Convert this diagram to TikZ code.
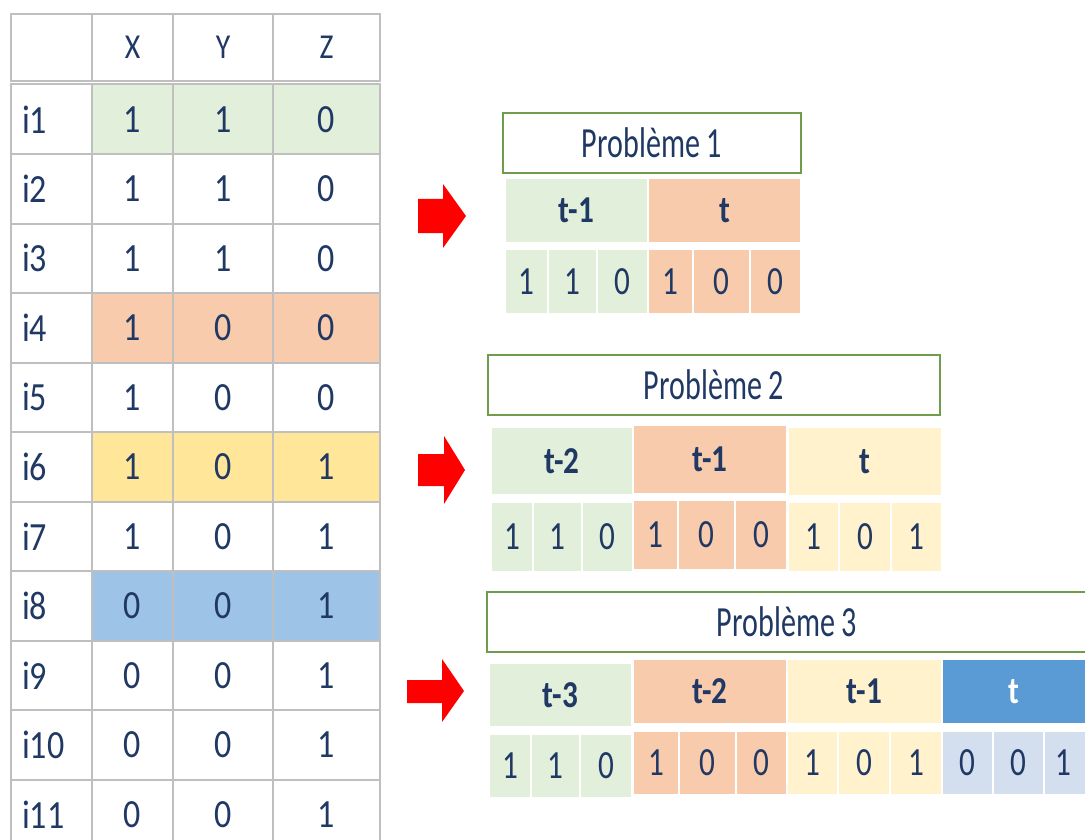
\documentclass[tikz,border=0pt]{standalone}
\usepackage{fontspec}
\setmainfont{Carlito}
\newfontfamily\probfont{Carlito}[FakeStretch=0.7]
\newfontfamily\valfont{Carlito}[FakeStretch=0.78]
\newfontfamily\tabfont{Carlito}[FakeStretch=0.85]
\newfontfamily\headfont{Carlito}[FakeStretch=0.82]
\definecolor{txt}{HTML}{203864}
\definecolor{grn}{HTML}{E2EFDA}
\definecolor{org}{HTML}{F8CBAD}
\definecolor{yel}{HTML}{FFE699}
\definecolor{yell}{HTML}{FFF2CC}
\definecolor{blu}{HTML}{9DC3E6}
\definecolor{bluh}{HTML}{5B9BD5}
\definecolor{blul}{HTML}{D3DEEF}
\definecolor{gridc}{HTML}{BFBFBF}
\definecolor{boxg}{HTML}{6E9D4B}
\definecolor{arrowred}{HTML}{FF0000}
\newcommand\cellnode[7]{%
  \node[#6, minimum width={#4pt-#2pt}, minimum height={#5pt-#3pt}] (#1) at ({(#2+#4)/2},{(#3+#5)/2}) {#7};}
\tikzset{
  base/.style={inner sep=0pt, outer sep=0pt, text=txt},
  tcell/.style={base, draw=gridc, line width=2pt, fill=white, font=\tabfont\fontsize{40}{46}\selectfont},
  thead/.style={tcell, font=\tabfont\fontsize{35}{42}\selectfont},
  tlab/.style={tcell, inner xsep=11pt, text width=59pt, align=left},
  rcell/.style={base, draw=white, line width=2pt, font=\valfont\fontsize{40}{46}\selectfont},
  hcell/.style={base, draw=white, line width=2pt, font=\headfont\bfseries\fontsize{38}{44}\selectfont},
  titlebox/.style={base, draw=boxg, line width=2pt, fill=white, font=\probfont\fontsize{43}{50}\selectfont},
  redarrow/.style={fill=arrowred, draw=none}
}
\begin{document}
\begin{tikzpicture}[x=1pt, y=-1pt]
\useasboundingbox (0,0) rectangle (1085,840);
\fill[white] (0,0) rectangle (1085,840);
% ---------- table ----------
\cellnode{hl}{11}{14}{92}{81}{thead}{}
\cellnode{hx}{92}{14}{173}{81}{thead}{X}
\cellnode{hy}{173}{14}{273}{81}{thead}{Y}
\cellnode{hz}{273}{14}{380}{81}{thead}{Z}
\foreach \lab/\a/\b/\c/\f [count=\i] in {i1/1/1/0/grn, i2/1/1/0/white, i3/1/1/0/white, i4/1/0/0/org, i5/1/0/0/white, i6/1/0/1/yel, i7/1/0/1/white, i8/0/0/1/blu, i9/0/0/1/white, i10/0/0/1/white, i11/0/0/1/white}{
  \pgfmathsetmacro\ya{84.5+(\i-1)*69.5}
  \pgfmathsetmacro\yb{\ya+69.5}
  \cellnode{r\i l}{11}{\ya}{92}{\yb}{tlab}{\lab}
  \cellnode{r\i x}{92}{\ya}{173}{\yb}{tcell, fill=\f}{\a}
  \cellnode{r\i y}{173}{\ya}{273}{\yb}{tcell, fill=\f}{\b}
  \cellnode{r\i z}{273}{\ya}{380}{\yb}{tcell, fill=\f}{\c}
}
% ---------- arrows ----------
\fill[redarrow] (418,199) -- (443,199) -- (443,184) -- (466,216) -- (443,248) -- (443,233) -- (418,233) -- cycle;
\fill[redarrow] (418,454) -- (444,454) -- (444,436) -- (465,470) -- (444,504) -- (444,486) -- (418,486) -- cycle;
\fill[redarrow] (407,680) -- (442,680) -- (442,659) -- (464,691) -- (442,722) -- (442,703) -- (407,703) -- cycle;
% ---------- Probleme 1 ----------
\cellnode{p1title}{503}{113}{801}{173}{titlebox}{Problème 1}
\cellnode{p1h1}{505}{178}{648}{243}{hcell, fill=grn}{t-1}
\cellnode{p1h2}{648}{178}{801}{243}{hcell, fill=org}{t}
\cellnode{p1v1}{505}{249}{548}{314}{rcell, fill=grn}{1}
\cellnode{p1v2}{548}{249}{597}{314}{rcell, fill=grn}{1}
\cellnode{p1v3}{597}{249}{648}{314}{rcell, fill=grn}{0}
\cellnode{p1v4}{648}{249}{693}{314}{rcell, fill=org}{1}
\cellnode{p1v5}{693}{249}{750}{314}{rcell, fill=org}{0}
\cellnode{p1v6}{750}{249}{801}{314}{rcell, fill=org}{0}
% ---------- Probleme 2 ----------
\cellnode{p2title}{488}{355}{940}{415}{titlebox}{Problème 2}
\cellnode{p2h1}{491}{427}{633}{495}{hcell, fill=grn}{t-2}
\cellnode{p2h2}{633}{425}{787}{494}{hcell, fill=org}{t-1}
\cellnode{p2h3}{788}{427}{942}{496}{hcell, fill=yell}{t}
\cellnode{p2v1}{491}{502}{533}{572}{rcell, fill=grn}{1}
\cellnode{p2v2}{533}{502}{582}{572}{rcell, fill=grn}{1}
\cellnode{p2v3}{582}{502}{633}{572}{rcell, fill=grn}{0}
\cellnode{p2v4}{633}{500}{678}{570}{rcell, fill=org}{1}
\cellnode{p2v5}{678}{500}{735}{570}{rcell, fill=org}{0}
\cellnode{p2v6}{735}{500}{787}{570}{rcell, fill=org}{0}
\cellnode{p2v7}{788}{502}{839}{572}{rcell, fill=yell}{1}
\cellnode{p2v8}{839}{502}{891}{572}{rcell, fill=yell}{0}
\cellnode{p2v9}{891}{502}{942}{572}{rcell, fill=yell}{1}
% ---------- Probleme 3 ----------
\cellnode{p3title}{487}{592}{1097}{652}{titlebox}{\hspace*{-10pt}Problème 3}
\cellnode{p3h1}{489}{663}{632}{727}{hcell, fill=grn}{t-3}
\cellnode{p3h2}{633}{659}{787}{724}{hcell, fill=org}{t-2}
\cellnode{p3h3}{787}{659}{942}{724}{hcell, fill=yell}{t-1}
\cellnode{p3h4}{942}{659}{1096}{724}{hcell, fill=bluh, text=white}{\hspace*{-10pt}t}
\cellnode{p3v1}{489}{734}{531}{798}{rcell, fill=grn}{1}
\cellnode{p3v2}{531}{734}{580}{798}{rcell, fill=grn}{1}
\cellnode{p3v3}{580}{734}{632}{798}{rcell, fill=grn}{0}
\cellnode{p3v4}{633}{731}{679}{795}{rcell, fill=org}{1}
\cellnode{p3v5}{679}{731}{736}{795}{rcell, fill=org}{0}
\cellnode{p3v6}{736}{731}{787}{795}{rcell, fill=org}{0}
\cellnode{p3v7}{787}{731}{838}{795}{rcell, fill=yell}{1}
\cellnode{p3v8}{838}{731}{890}{795}{rcell, fill=yell}{0}
\cellnode{p3v9}{890}{731}{942}{795}{rcell, fill=yell}{1}
\cellnode{p3v10}{942}{731}{993}{795}{rcell, fill=blul}{0}
\cellnode{p3v11}{993}{731}{1044}{795}{rcell, fill=blul}{0}
\cellnode{p3v12}{1044}{731}{1095}{795}{rcell, fill=blul}{\hspace*{-12pt}1}
\end{tikzpicture}
\end{document}
